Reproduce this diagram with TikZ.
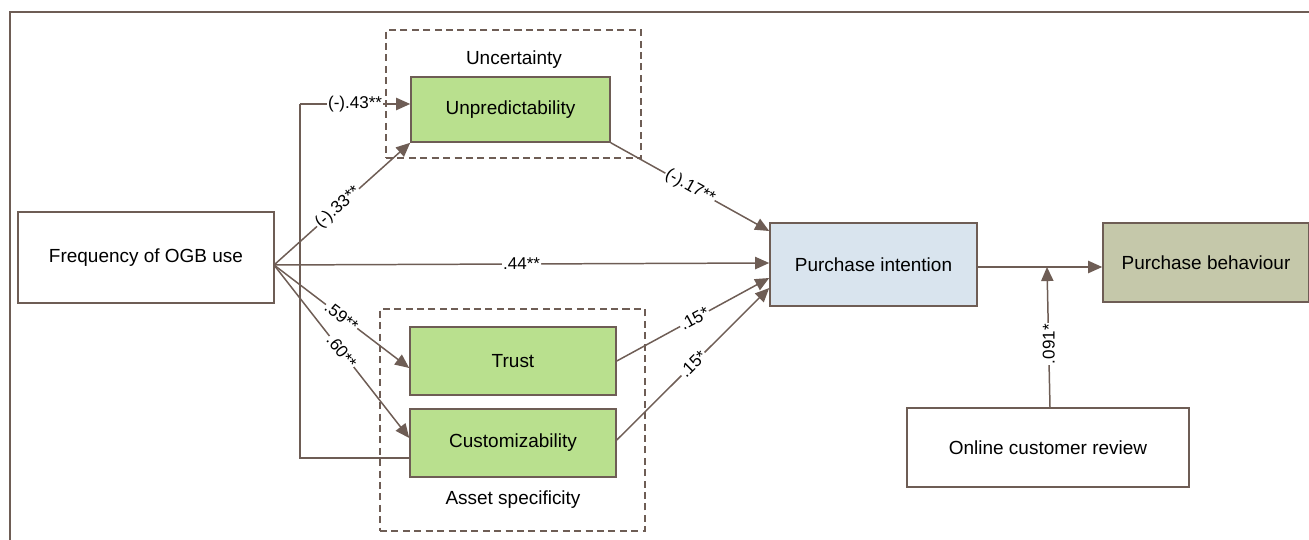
\documentclass[tikz,border=0pt]{standalone}
\usepackage{fontspec}
\setmainfont{Liberation Sans}
\usetikzlibrary{arrows.meta}
\definecolor{ln}{HTML}{6E5D55}
\definecolor{gfill}{HTML}{B9E08E}
\definecolor{bfill}{HTML}{D9E4EE}
\definecolor{ofill}{HTML}{C5C8AA}
\tikzset{
  box/.style={draw=ln,line width=0.9pt,inner sep=0pt,font=\fontsize{10.8}{13}\selectfont},
  grp/.style={draw=ln,line width=0.8pt,dash pattern=on 4pt off 2.5pt},
  conn/.style={draw=ln,line width=0.85pt,-{Triangle[length=8pt,width=7pt]}},
  plain/.style={draw=ln,line width=0.85pt},
  lbl/.style={fill=white,inner sep=0.6pt,font=\fontsize{9.7}{11}\selectfont,sloped},
  vlbl/.style={fill=white,inner sep=0.6pt,font=\fontsize{9.7}{11}\selectfont,rotate=90},
  grplbl/.style={font=\fontsize{10.8}{13}\selectfont}
}
\begin{document}
\begin{tikzpicture}[x=0.02cm,y=-0.02cm]
\useasboundingbox (0,0) rectangle (1309,540);
% outer frame
\draw[plain,line width=1pt] (10,540) coordinate (fb) -- (10,12) coordinate (fc) -- (1309,12) coordinate (fr);
% group boxes
\node[grp,minimum width=255*0.02cm,minimum height=128*0.02cm] (unc) at (513.5,94) {};
\node[grp,minimum width=265*0.02cm,minimum height=222*0.02cm] (asp) at (512.5,420) {};
\node[grplbl] (unclbl) at (514,60) {Uncertainty};
\node[grplbl] (asplbl) at (513,500) {Asset specificity};
% nodes
\node[box,fill=white,minimum width=256*0.02cm,minimum height=91*0.02cm] (freq) at (146,257.5) {Frequency of OGB use};
\node[box,fill=gfill,minimum width=199*0.02cm,minimum height=65*0.02cm] (unp) at (510.5,109.5) {Unpredictability};
\node[box,fill=gfill,minimum width=206*0.02cm,minimum height=68*0.02cm] (trust) at (513,361) {Trust};
\node[box,fill=gfill,minimum width=206*0.02cm,minimum height=68*0.02cm] (cust) at (513,443) {Customizability};
\node[box,fill=bfill,minimum width=207*0.02cm,minimum height=83*0.02cm] (pi) at (873.5,264.5) {Purchase intention};
\node[box,fill=ofill,minimum width=206*0.02cm,minimum height=79*0.02cm] (pb) at (1206,262.5) {Purchase behaviour};
\node[box,fill=white,minimum width=282*0.02cm,minimum height=79*0.02cm] (ocr) at (1048,447.5) {Online customer review};
% coordinates
\coordinate (o) at (274,265);
\coordinate (k1) at (300,458);
\coordinate (k2) at (300,104);
\coordinate (m) at (1047,267);
% connectors
\draw[plain] (cust.west |- 0,458) -- (k1) -- (k2);
\draw[conn] (k2) -- node[lbl,pos=0.5]{(-).43**} (unp.west |- 0,104);
\draw[conn] (o) -- node[lbl,pos=0.47]{(-).33**} (unp.south west);
\draw[conn] (o) -- node[lbl,pos=0.5]{.59**} (trust.west |- 0,368);
\draw[conn] (o) -- node[lbl,pos=0.5]{.60**} (cust.west |- 0,438);
\draw[conn] (o) -- node[lbl,pos=0.5]{.44**} (pi.west |- 0,263);
\draw[conn] (unp.south east) -- node[lbl,pos=0.5]{(-).17**} (pi.west |- 0,231);
\draw[conn] (trust.east) -- node[lbl,pos=0.51]{.15*} (pi.west |- 0,278);
\draw[conn] (cust.east |- 0,440) -- node[lbl,pos=0.5]{.15*} (pi.west |- 0,288);
\draw[conn] (pi.east |- 0,267) -- (pb.west |- 0,267);
\draw[conn] (ocr.north -| 1050,0) -- node[vlbl,pos=0.45]{.091*} (m);
\end{tikzpicture}
\end{document}
